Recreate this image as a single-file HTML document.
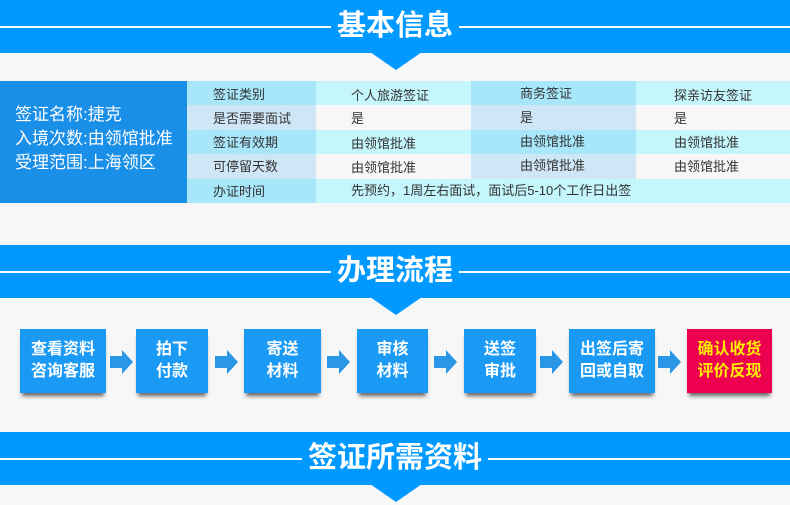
<!DOCTYPE html>
<html><head><meta charset="utf-8"><style>
*{margin:0;padding:0;box-sizing:border-box}
body{width:790px;height:505px;background:#f7f7f7;position:relative;overflow:hidden;font-family:"Liberation Sans","Noto Sans CJK SC",sans-serif}
.ban{position:absolute;left:0;width:790px;height:53px;background:#0099ff}
.ban .ln{position:absolute;left:0;right:0;top:26px;height:2px;background:#fff}
.ban .t{position:absolute;left:50%;transform:translateX(-50%);top:6px;padding:0 6px;background:#0099ff;color:#fff;font-size:29px;font-weight:bold;line-height:40px;white-space:nowrap}
.tri{position:absolute;left:370px;width:0;height:0;border-left:26px solid transparent;border-right:26px solid transparent;border-top:18px solid #0099ff}
.left{position:absolute;left:0;top:81px;width:187px;height:122px;background:#1a8fe8;color:#fff;font-size:17px;padding:22px 0 0 15px;line-height:24px}
.c{position:absolute;font-size:13px;color:#333;line-height:24px;height:24px}
.box{position:absolute;top:329px;height:64px;background:#1a9af5;color:#fff;font-weight:bold;font-size:16px;line-height:22px;text-align:center;padding-top:10px;box-shadow:0 5px 4px -2px rgba(0,0,0,.6)}
</style></head><body>
<div class="ban" style="top:0"><div class="ln"></div><div class="t">基本信息</div></div>
<div class="tri" style="top:52px"></div>
<div class="left">签证名称:捷克<br>入境次数:由领馆批准<br>受理范围:上海领区</div>
<div style="position:absolute;left:187px;top:81px;width:603px;height:122px">
<div style="position:absolute;left:0;top:0;width:603px;height:24px;background:#c4f6fc"></div>
<div style="position:absolute;left:0;top:24px;width:603px;height:25px;background:#f7f7f7"></div>
<div style="position:absolute;left:0;top:49px;width:603px;height:24px;background:#c4f6fc"></div>
<div style="position:absolute;left:0;top:73px;width:603px;height:25px;background:#f7f7f7"></div>
<div style="position:absolute;left:0;top:98px;width:603px;height:24px;background:#c4f6fc"></div>
<div style="position:absolute;left:0;top:0;width:129px;height:24px;background:#a8e6fa"></div>
<div style="position:absolute;left:0;top:24px;width:129px;height:25px;background:#cfe6f7"></div>
<div style="position:absolute;left:0;top:49px;width:129px;height:24px;background:#a8e6fa"></div>
<div style="position:absolute;left:0;top:73px;width:129px;height:25px;background:#cfe6f7"></div>
<div style="position:absolute;left:0;top:98px;width:129px;height:24px;background:#a8e6fa"></div>
<div style="position:absolute;left:284px;top:0;width:165px;height:24px;background:#a8e6fa"></div>
<div style="position:absolute;left:284px;top:24px;width:165px;height:25px;background:#cfe6f7"></div>
<div style="position:absolute;left:284px;top:49px;width:165px;height:24px;background:#a8e6fa"></div>
<div style="position:absolute;left:284px;top:73px;width:165px;height:25px;background:#cfe6f7"></div>
</div>
<div class="c" style="left:213px;top:83px">签证类别</div><div class="c" style="left:351px;top:84px">个人旅游签证</div><div class="c" style="left:520px;top:82px">商务签证</div><div class="c" style="left:674px;top:84px">探亲访友签证</div>
<div class="c" style="left:213px;top:107px">是否需要面试</div><div class="c" style="left:351px;top:107px">是</div><div class="c" style="left:520px;top:106px">是</div><div class="c" style="left:674px;top:107px">是</div>
<div class="c" style="left:213px;top:131px">签证有效期</div><div class="c" style="left:351px;top:132px">由领馆批准</div><div class="c" style="left:520px;top:130px">由领馆批准</div><div class="c" style="left:674px;top:131px">由领馆批准</div>
<div class="c" style="left:213px;top:155px">可停留天数</div><div class="c" style="left:351px;top:156px">由领馆批准</div><div class="c" style="left:520px;top:154px">由领馆批准</div><div class="c" style="left:674px;top:155px">由领馆批准</div>
<div class="c" style="left:213px;top:180px">办证时间</div><div class="c" style="left:351px;top:179px">先预约，1周左右面试，面试后5-10个工作日出签</div>

<div class="ban" style="top:245px"><div class="ln"></div><div class="t">办理流程</div></div>
<div class="tri" style="top:297px"></div>
<div class="box" style="left:20px;width:86px">查看资料<br>咨询客服</div>
<div class="box" style="left:136px;width:72px">拍下<br>付款</div>
<div class="box" style="left:244px;width:77px">寄送<br>材料</div>
<div class="box" style="left:357px;width:71px">审核<br>材料</div>
<div class="box" style="left:464px;width:72px">送签<br>审批</div>
<div class="box" style="left:569px;width:86px">出签后寄<br>回或自取</div>
<div class="box" style="left:687px;width:85px;background:#ee0050;color:#ffee00">确认收货<br>评价反现</div>
<svg width="790" height="505" style="position:absolute;left:0;top:0">
<g fill="#2a96e8">
<polygon points="110,356 122,356 122,350 133,362 122,374 122,368 110,368"/>
<polygon points="215,356 227,356 227,350 238,362 227,374 227,368 215,368"/>
<polygon points="327,356 339,356 339,350 350,362 339,374 339,368 327,368"/>
<polygon points="434,356 446,356 446,350 457,362 446,374 446,368 434,368"/>
<polygon points="540,356 552,356 552,350 563,362 552,374 552,368 540,368"/>
<polygon points="658,356 670,356 670,350 681,362 670,374 670,368 658,368"/>
</g></svg>

<div class="ban" style="top:432px"><div class="ln"></div><div class="t">签证所需资料</div></div>
<div class="tri" style="top:484px"></div>
</body></html>
